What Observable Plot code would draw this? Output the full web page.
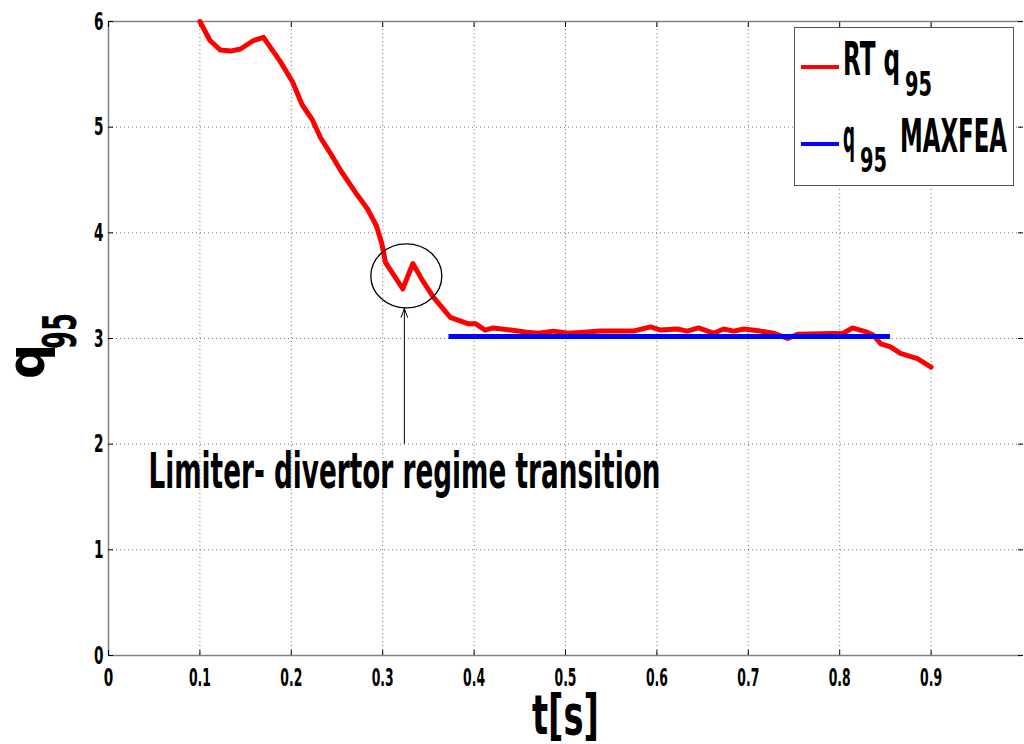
<!DOCTYPE html>
<html><head><meta charset="utf-8">
<script src="https://cdn.jsdelivr.net/npm/d3@7"></script>
<script src="https://cdn.jsdelivr.net/npm/@observablehq/plot@0.6"></script>
<style>
html,body{margin:0;padding:0;background:#fff;}
#chart{position:relative;width:1024px;height:744px;overflow:hidden;}
</style></head><body><div id="chart"></div>
<script>
// ---- data ----
const tRT = [0.100,0.111,0.1225,0.1335,0.1444,0.1586,0.1696,0.188,0.2013,0.212,0.223,0.232,0.243,0.254,0.272,0.283,0.293,0.299,0.303,0.322,0.333,0.3435,0.3556,0.374,0.393,0.4015,0.412,0.421,0.44,0.458,0.47,0.487,0.503,0.52,0.538,0.574,0.593,0.604,0.6225,0.633,0.6455,0.662,0.673,0.684,0.695,0.713,0.7275,0.743,0.754,0.804,0.814,0.830,0.837,0.845,0.8556,0.8665,0.885,0.900];
const qRT = [6.00,5.82,5.73,5.72,5.74,5.82,5.85,5.62,5.43,5.21,5.07,4.90,4.75,4.59,4.36,4.23,4.07,3.90,3.72,3.47,3.71,3.55,3.39,3.20,3.14,3.14,3.08,3.10,3.08,3.06,3.05,3.07,3.05,3.06,3.07,3.07,3.11,3.08,3.09,3.07,3.10,3.05,3.09,3.07,3.09,3.07,3.05,3.00,3.04,3.05,3.10,3.06,3.03,2.95,2.92,2.86,2.81,2.73];
const tMAX = [0.372, 0.855];
const qMAX = [3.02, 3.02];
const xTicks = [0,0.1,0.2,0.3,0.4,0.5,0.6,0.7,0.8,0.9];
const xTickLabels = ["0","0.1","0.2","0.3","0.4","0.5","0.6","0.7","0.8","0.9"];
const yTicks = [0,1,2,3,4,5,6];
const yTickLabels = ["0","1","2","3","4","5","6"];
const annotationText = ["Limiter- divertor regime transition"];
const annotationX = [0.0437];
const annotationY = [1.735];
const circleX = [0.3264];
const circleY = [3.587];
const arrowX = [0.3237];
const arrowY1 = [2.006];
const arrowY2 = [3.284];
const seriesNames = ["RT q", "q"];
const seriesSubs = ["95", "95"];
const seriesSuffix = ["", "MAXFEA"];
const xLabel = "t[s]";
const yLabel = ["q", "95"];

const FONT = '"Liberation Sans Narrow","DejaVu Sans Condensed","Liberation Sans",sans-serif';

const redData = tRT.map((t,i)=>({t, q:qRT[i]}));
const blueData = tMAX.map((t,i)=>({t, q:qMAX[i]}));
const xLab = xTicks.map((v,i)=>({v, s:xTickLabels[i]}));
const yLab = yTicks.map((v,i)=>({v, s:yTickLabels[i]}));

const gridStyle = {stroke:"#000", strokeOpacity:0.55, strokeDasharray:"1,3", strokeWidth:1};

const plot = Plot.plot({
  width: 1024, height: 744,
  marginLeft: 108, marginRight: 2, marginTop: 21, marginBottom: 89,
  x: {domain:[0,1]},
  y: {domain:[0,6]},
  style: {fontFamily: FONT, background:"#fff", color:"#000"},
  marks: [
    Plot.gridX(xTicks, gridStyle),
    Plot.gridY(yTicks, gridStyle),
    Plot.ruleX([0], {stroke:"#808080", strokeWidth:1.5}),
    Plot.ruleY([0], {stroke:"#808080", strokeWidth:1.5}),
    Plot.ruleY([6], {stroke:"#808080", strokeWidth:1.5}),
    Plot.axisX(xTicks, {anchor:"bottom", tickSize:-5, tickFormat:()=>"", label:null}),
    Plot.axisX(xTicks, {anchor:"top", tickSize:-5, tickFormat:()=>"", label:null}),
    Plot.axisY(yTicks, {anchor:"left", tickSize:-5, tickFormat:()=>"", label:null}),
    Plot.axisY(yTicks, {anchor:"right", tickSize:-5, tickFormat:()=>"", label:null}),
    // tick labels through the scales
    Plot.text(xLab, {x:"v", y:()=>0, text:"s", dy:13, lineAnchor:"top", textAnchor:"middle", fontSize:25, fontWeight:"bold", fill:"#000"}),
    Plot.text(yLab, {x:()=>0, y:"v", text:"s", dx:-5, lineAnchor:"middle", textAnchor:"end", fontSize:25, fontWeight:"bold", fill:"#000"}),
    Plot.line(redData, {x:"t", y:"q", stroke:"#ff0000", strokeWidth:5, strokeLinejoin:"round"}),
    Plot.line(blueData, {x:"t", y:"q", stroke:"#0000ff", strokeWidth:5, strokeLinecap:"butt"}),
    Plot.arrow(arrowX.map((x,i)=>({x, y1:arrowY1[i], y2:arrowY2[i]})), {x1:"x", x2:"x", y1:"y1", y2:"y2", stroke:"#000", strokeWidth:1, headLength:14, headAngle:40}),
    Plot.text(annotationText.map((s,i)=>({s, x:annotationX[i], y:annotationY[i]})), {x:"x", y:"y", text:"s", textAnchor:"start", lineAnchor:"middle", fontSize:50, fontWeight:"bold", fill:"#000"})
  ]
});

document.getElementById("chart").appendChild(plot);
const svg = d3.select(plot);
const sx = plot.scale("x"), sy = plot.scale("y");

// condense tick labels and annotation
const cw = s => [...s].reduce((a,c)=>a+(c==="."?3:9.5),0);
svg.selectAll("text").each(function(){
  const s = this.textContent;
  if (!s) return;
  if (s === annotationText[0]) {
    this.setAttribute("textLength", 512);
    this.setAttribute("lengthAdjust","spacingAndGlyphs");
  } else if (xTickLabels.includes(s) || yTickLabels.includes(s)) {
    this.setAttribute("textLength", cw(s));
    this.setAttribute("lengthAdjust","spacingAndGlyphs");
  }
});

// ellipse annotation (via scales)
circleX.forEach((cx,i)=>{
  svg.append("ellipse").attr("cx", sx.apply(cx)).attr("cy", sy.apply(circleY[i]))
    .attr("rx",35.5).attr("ry",32).attr("fill","none").attr("stroke","#000").attr("stroke-width",1.3);
});

function txt(g, s, x, y, fs, len, rot){
  const t = g.append("text").attr("x",x).attr("y",y).text(s)
    .attr("text-anchor","start")
    .attr("font-family",FONT).attr("font-weight","bold").attr("font-size",fs).attr("fill","#000")
    .attr("textLength",len).attr("lengthAdjust","spacingAndGlyphs");
  if (rot) t.attr("transform",`rotate(-90 ${x} ${y})`);
  return t;
}

// axis labels
txt(svg, xLabel, 532, 734, 56, 67);
txt(svg, yLabel[0], 44, 379, 52, 35, true);
txt(svg, yLabel[1], 76, 349, 46, 36, true);

// legend
const lg = svg.append("g");
lg.append("rect").attr("x",794.5).attr("y",27.5).attr("width",219).attr("height",158)
  .attr("fill","#fff").attr("stroke","#555").attr("stroke-width",1);
lg.append("line").attr("x1",801).attr("x2",839).attr("y1",67).attr("y2",67).attr("stroke","#ff0000").attr("stroke-width",4);
lg.append("line").attr("x1",801).attr("x2",839).attr("y1",144).attr("y2",144).attr("stroke","#0000ff").attr("stroke-width",4);
txt(lg, seriesNames[0], 843, 75, 46, 57);
txt(lg, seriesSubs[0], 905, 96, 34, 27);
txt(lg, seriesNames[1], 843, 152, 46, 12);
txt(lg, seriesSubs[1], 860, 172, 34, 27);
txt(lg, seriesSuffix[1], 900, 152, 46, 107);
</script>
</body></html>
